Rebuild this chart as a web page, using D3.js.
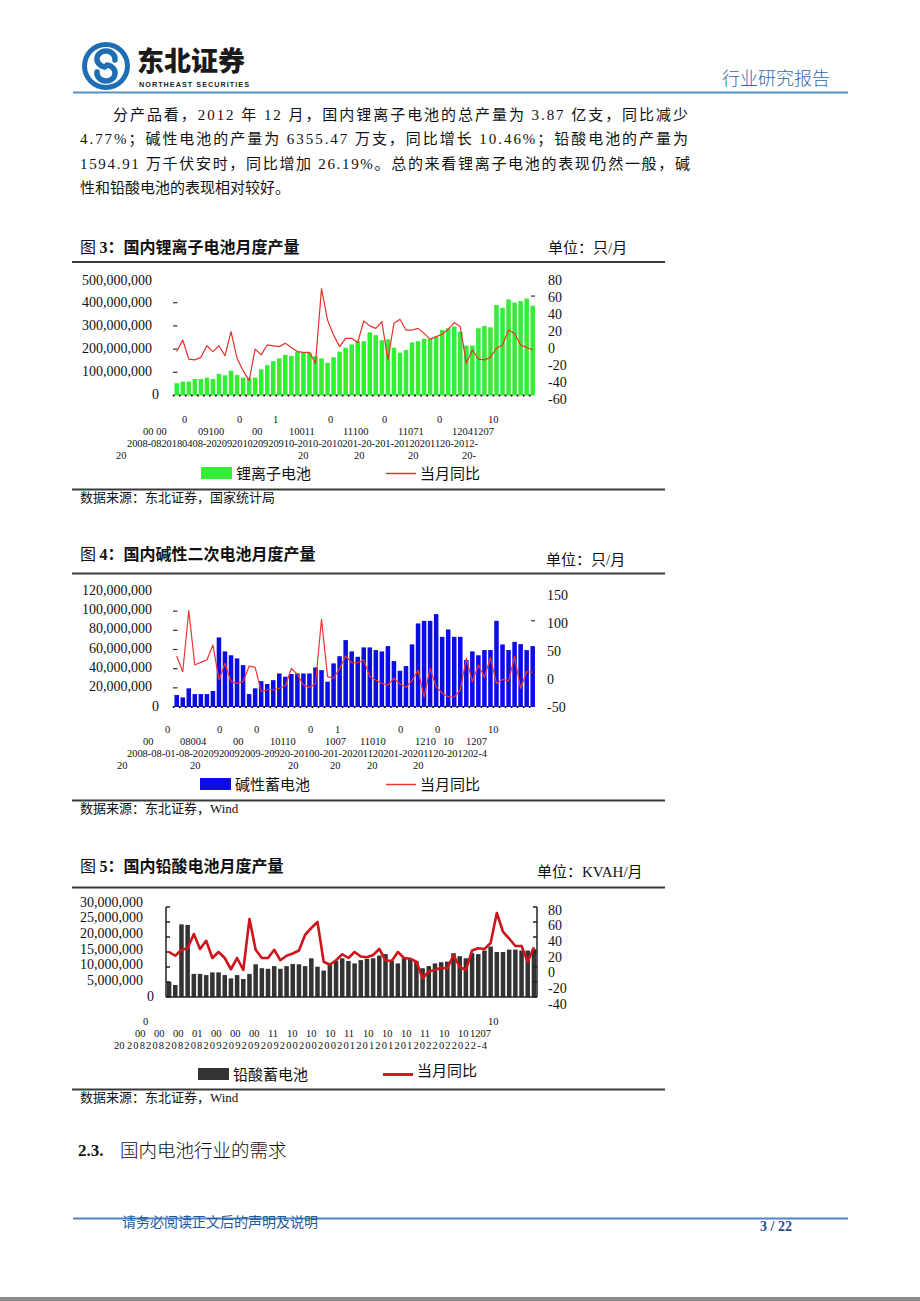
<!DOCTYPE html>
<html><head><meta charset="utf-8">
<script src="https://cdn.jsdelivr.net/npm/d3@7"></script>
<style>body{margin:0;background:#fff} svg{display:block}</style>
</head><body>
<svg id="page" width="920" height="1301"></svg>
<script>
// ---------------- DATA ----------------
const months = [
 "2008-01","2008-02","2008-03","2008-04","2008-05","2008-06","2008-07","2008-08","2008-09","2008-10","2008-11","2008-12",
 "2009-01","2009-02","2009-03","2009-04","2009-05","2009-06","2009-07","2009-08","2009-09","2009-10","2009-11","2009-12",
 "2010-01","2010-02","2010-03","2010-04","2010-05","2010-06","2010-07","2010-08","2010-09","2010-10","2010-11","2010-12",
 "2011-01","2011-02","2011-03","2011-04","2011-05","2011-06","2011-07","2011-08","2011-09","2011-10","2011-11","2011-12",
 "2012-01","2012-02","2012-03","2012-04","2012-05","2012-06","2012-07","2012-08","2012-09","2012-10","2012-11","2012-12"];

// Figure 3: lithium-ion battery output (million units) and YoY (%)
const liIonOutputMn = [53,60,60,71,71,77,71,93,87,107,88,77,
 77,77,113,131,148,160,175,170,189,184,184,170,
 160,141,165,189,206,220,234,234,272,260,238,242,
 206,185,196,229,234,245,245,253,282,290,297,275,
 215,215,290,300,294,390,378,414,401,407,418,387];
const liIonYoY = [-7,7,-16,-17,-14,0,-7,0,-12,17,-15,-30,
 -42,-4,-11,1,0,-1,3,-2,-7,-8,-8,-21,
 69,31,13,-1,9,9,4,30,24,21,29,-17,
 27,32,19,19,21,15,8,11,14,20,28,23,
 -21,-5,-16,-17,-14,-3,1,19,15,1,-2,-4.77];

// Figure 4: alkaline secondary battery output (million units) and YoY (%)
const alkalineOutputMn = [12.5,10,19.5,13.5,13.5,13.5,16.7,72.6,58,54,50.7,43.7,
 13.5,19.5,27,24,28,35,31.6,34.4,35,35,35,41.3,
 38.5,26.4,45.5,53,69.8,58,52.4,62.2,62.2,59.4,58,63.5,
 47.9,37.8,42.7,65.3,87.2,89.9,89.9,96.9,73.2,80.9,73.2,73.2,
 49,58,54,59.4,59.4,89.9,65.3,59.4,68,65.6,59.4,63.55];
const alkalineYoY = [38.7,11.4,117.5,23,27.7,31.7,57.8,-3,26,-6,-9,-6,
 21,19,-23,-20,-20,-17.5,-13.5,17,6.8,-11.7,-15.8,-10,
 102.5,2.8,0,17,38.7,27,27,31.7,2.8,-3,-9,-11.7,
 0,-10,-15.8,-4,14,-33,17,-14.6,-26,-32,-33,-20,
 34.6,-6,23,1.6,36,-9,-2,-4.8,37.5,-17.5,11.4,10.46];

// Figure 5: lead-acid battery output (million KVAH) and YoY (%)
const leadAcidOutputMn = [5.1,4.0,24.2,24.0,7.7,7.7,7.3,8.2,8.2,7.3,6.2,7.3,
 6.0,7.7,10.9,9.6,9.4,10.3,9.4,10.3,11.0,10.9,10.3,12.9,
 10.1,8.8,11.0,12.0,12.9,12.0,11.2,12.3,12.7,12.9,13.8,14.3,
 12.0,11.2,12.9,12.7,12.0,9.6,10.3,11.2,11.6,11.8,14.6,13.6,
 12.9,14.6,14.3,15.5,16.8,15.0,15.0,15.8,15.8,15.5,15.5,15.95];
const leadAcidYoY = [20,15,23,25,44,24,35,12,20,12,-3,12,
 -4,64,23,12,12,23,9,15,18,22,43,52,
 60,7,3,9,17,12,20,14,13,16,24,9,
 8,20,12,11,7,-15,-6,-4,-1,-2,16,0,
 -4,22,25,24,32,72,47,38,28,28,7,26.19];

// tick values
const liLeftTicks = [0,100,200,300,400,500];          // million
const liRightTicks = [-60,-40,-20,0,20,40,60,80];
const alkLeftTicks = [0,20,40,60,80,100,120];
const alkRightTicks = [-50,0,50,100,150];
const leadLeftTicks = [0,5,10,15,20,25,30];
const leadRightTicks = [-40,-20,0,20,40,60,80];

// text
const paragraphLines = [
 "分产品看，2012 年 12 月，国内锂离子电池的总产量为 3.87 亿支，同比减少",
 "4.77%；碱性电池的产量为 6355.47 万支，同比增长 10.46%；铅酸电池的产量为",
 "1594.91 万千伏安时，同比增加 26.19%。总的来看锂离子电池的表现仍然一般，碱",
 "性和铅酸电池的表现相对较好。"];

// ---------------- DRAW ----------------
const svg = d3.select("#page");
svg.append("rect").attr("width",920).attr("height",1301).attr("fill","#fff");
const CJK = "'Liberation Serif','Noto Sans CJK SC',serif";
const CJKS = "'Noto Sans CJK SC',sans-serif";
const SERIF = "'Liberation Serif','Times New Roman',serif";

// header logo
const logo = svg.append("g").attr("transform","translate(106,66)");
logo.append("circle").attr("r",24).attr("fill","#1e6eb4");
logo.append("circle").attr("r",19).attr("fill","#fff");
logo.append("path").attr("d","M 9 -6 A 9 8 0 1 0 -1 1")
  .attr("stroke","#1e6eb4").attr("stroke-width",5.5).attr("fill","none").attr("stroke-linecap","round");
logo.append("path").attr("d","M -9 6 A 9 8 0 1 0 1 -1")
  .attr("stroke","#1e6eb4").attr("stroke-width",5.5).attr("fill","none").attr("stroke-linecap","round");
svg.append("text").attr("x",137).attr("y",71).text("东北证券")
  .attr("font-family",CJKS).attr("font-weight","900").attr("font-size",27).attr("fill","#1a1a1a");
svg.append("text").attr("x",139).attr("y",87).text("NORTHEAST SECURITIES")
  .attr("font-family","'Liberation Sans',Arial,sans-serif").attr("font-weight","bold").attr("font-size",7.2)
  .attr("textLength",110).attr("fill","#222");
svg.append("text").attr("x",722).attr("y",85).text("行业研究报告")
  .attr("font-family",CJKS).attr("font-size",18).attr("fill","#2f68a6").attr("font-weight",300);
svg.append("line").attr("x1",73).attr("x2",848).attr("y1",92.5).attr("y2",92.5)
  .attr("stroke","#5b8fc7").attr("stroke-width",2);

// paragraph
const paraX = [113,80,80,80], paraY = [120,144,169,193], paraLen = [575,608,610,null];
paragraphLines.forEach((t,i)=>{
  const tx = svg.append("text").attr("x",paraX[i]).attr("y",paraY[i]).text(t)
    .attr("font-family",CJK).attr("font-size",15).attr("fill","#111");
  if (paraLen[i]) tx.attr("textLength",paraLen[i]).attr("lengthAdjust","spacing");
});

// broken category-axis labels (as printed in the source document)
function frag(g, t, x, y, len){
  const e = g.append("text").attr("x",x).attr("y",y).text(t)
    .attr("font-family",SERIF).attr("font-size",10.5).attr("fill","#111");
  if (len) e.attr("textLength",len).attr("lengthAdjust","spacing");
}

function drawChart(c){
  const g = svg.append("g");
  const tt = g.append("text").attr("x",80).attr("y",c.titleY).attr("font-size",16).attr("fill","#111");
  tt.append("tspan").attr("font-family",CJKS).text("图 ");
  tt.append("tspan").attr("font-family",SERIF).attr("font-weight","bold").text(c.num);
  tt.append("tspan").attr("font-family",CJKS).attr("font-weight","bold").text("：" + c.title);
  g.append("text").attr("x",c.unitX).attr("y",c.unitY).text(c.unit)
    .attr("font-family",CJK).attr("font-size",15).attr("fill","#111");
  g.append("line").attr("x1",72).attr("x2",665).attr("y1",c.ruleY).attr("y2",c.ruleY)
    .attr("stroke","#3a3a3a").attr("stroke-width",2);

  const x = d3.scaleBand().domain(months).range([c.x0,c.x1]).paddingInner(c.pad).paddingOuter(c.pad/2);
  const yL = d3.scaleLinear().domain([0,c.leftMax]).range([c.yB,c.yT]);
  const yR = d3.scaleLinear().domain([c.rMin,c.rMax]).range([c.yB,c.yT]);
  const labL = d3.scaleLinear().domain([0,c.leftMax]).range(c.labL);
  const labR = d3.scaleLinear().domain([c.rMin,c.rMax]).range(c.labR);
  const fmt = d3.format(",");

  c.leftTicks.forEach(v=>{
    g.append("text").attr("x", v===0 ? c.zeroX : c.labLX).attr("y",labL(v))
      .attr("text-anchor","end").attr("dominant-baseline","central")
      .attr("font-family",SERIF).attr("font-size",14).attr("fill","#111")
      .text(fmt(Math.round(v*1e6)));
  });
  c.rightTicks.forEach(v=>{
    g.append("text").attr("x",c.labRX).attr("y",labR(v))
      .attr("dominant-baseline","central")
      .attr("font-family",SERIF).attr("font-size",14).attr("fill","#111")
      .text(v);
  });

  g.selectAll("rect.bar").data(c.values).join("rect").attr("class","bar")
    .attr("x",(d,i)=>x(months[i])).attr("width",x.bandwidth())
    .attr("y",d=>yL(d)).attr("height",d=>yL(0)-yL(d)).attr("fill",c.barColor);

  if (c.axes) {
    g.append("line").attr("x1",c.x0).attr("x2",c.x0).attr("y1",c.yT).attr("y2",c.yB).attr("stroke","#222").attr("stroke-width",1.5);
    g.append("line").attr("x1",c.x1).attr("x2",c.x1).attr("y1",c.yT).attr("y2",c.yB).attr("stroke","#222").attr("stroke-width",1.5);
    g.append("line").attr("x1",c.x0).attr("x2",c.x1).attr("y1",c.yB).attr("y2",c.yB).attr("stroke","#222").attr("stroke-width",1.5);
    c.leftTicks.forEach(v=>g.append("line").attr("x1",c.x0).attr("x2",c.x0+4).attr("y1",yL(v)).attr("y2",yL(v)).attr("stroke","#222").attr("stroke-width",1.5));
    c.rightTicks.forEach(v=>g.append("line").attr("x1",c.x1-4).attr("x2",c.x1).attr("y1",yR(v)).attr("y2",yR(v)).attr("stroke","#222").attr("stroke-width",1.5));
  } else {
    c.leftDash.forEach(v=>g.append("line").attr("x1",173).attr("x2",177.5).attr("y1",yL(v)).attr("y2",yL(v)).attr("stroke","#333").attr("stroke-width",1.2));
    c.rightDash.forEach(v=>g.append("line").attr("x1",531).attr("x2",535).attr("y1",yR(v)).attr("y2",yR(v)).attr("stroke","#333").attr("stroke-width",1.2));
    months.forEach(m=>{
      g.append("rect").attr("x",x(m)-x.step()*x.paddingInner()/2-0.9).attr("y",yL(0)-1)
        .attr("width",1.8).attr("height",2).attr("fill","#111");
    });
  }

  const line = d3.line().x((d,i)=>x(months[i])+x.bandwidth()/2).y(d=>yR(d)).curve(d3.curveLinear);
  g.append("path").datum(c.yoy).attr("d",line).attr("fill","none")
    .attr("stroke",c.lineColor).attr("stroke-width",c.lineW).attr("stroke-linejoin","round");

  c.frags.forEach(f=>frag(g,f[0],f[1],f[2],f[3]));

  g.append("rect").attr("x",c.leg[0]).attr("y",c.leg[1]).attr("width",31).attr("height",12).attr("fill",c.barColor);
  g.append("text").attr("x",c.leg[0]+35).attr("y",c.leg[1]+12).text(c.barName)
    .attr("font-family",CJKS).attr("font-size",15).attr("fill","#111");
  g.append("line").attr("x1",c.leg[2]).attr("x2",c.leg[2]+30).attr("y1",c.leg[1]+6.5).attr("y2",c.leg[1]+6.5)
    .attr("stroke",c.lineColor).attr("stroke-width",c.lineW+0.3);
  g.append("text").attr("x",c.leg[2]+34).attr("y",c.leg[1]+12+c.legDy).text("当月同比")
    .attr("font-family",CJKS).attr("font-size",15).attr("fill","#111");

  g.append("line").attr("x1",72).attr("x2",665).attr("y1",c.srcRule).attr("y2",c.srcRule)
    .attr("stroke","#3a3a3a").attr("stroke-width",2);
  g.append("text").attr("x",80).attr("y",c.srcRule+12).text(c.source)
    .attr("font-family",CJK).attr("font-size",13).attr("fill","#111");
}

drawChart({
  num:"3", title:"国内锂离子电池月度产量", titleY:253, unit:"单位：只/月", unitX:548, unitY:253, ruleY:262,
  x0:173.7, x1:535.7, pad:0.25, yB:395.5, yT:279.5, leftMax:500, rMin:-60, rMax:80,
  labL:[394,280], labR:[399,280], labLX:152, zeroX:159, labRX:548,
  leftTicks:liLeftTicks, rightTicks:liRightTicks, leftDash:[100,200,300,400], rightDash:[60],
  values:liIonOutputMn, yoy:liIonYoY, barColor:"#33ee33", lineColor:"#e8302a", lineW:1.2,
  barName:"锂离子电池", leg:[201,467,386], legDy:0, srcRule:489.5, source:"数据来源：东北证券，国家统计局",
  frags:[["0",182,423],["0",237,423],["1",273,423],["0",328,423],["0",382,423],["0",437,423],["10",488,423],
    ["00 00",143,435],["09100",198,435],["00",252,435],["10011",289,435],["11100",343,435],["11071",398,435],["12041207",452,435,42],
    ["2008-0820180408-20209201020920910-2010-2010201-20-201-20120201120-2012-",127,447,351],
    ["20",116,459],["20",298,459],["20",354,459],["20",408,459],["20-",462,459]]
});

drawChart({
  num:"4", title:"国内碱性二次电池月度产量", titleY:560, unit:"单位：只/月", unitX:546, unitY:565, ruleY:573.5,
  x0:173.7, x1:535.7, pad:0.25, yB:707, yT:592, leftMax:120, rMin:-50, rMax:150,
  labL:[706,590], labR:[707,595], labLX:152, zeroX:159, labRX:547,
  leftTicks:alkLeftTicks, rightTicks:alkRightTicks, leftDash:[20,40,60,80,100], rightDash:[100],
  values:alkalineOutputMn, yoy:alkalineYoY, barColor:"#0c0ce6", lineColor:"#ee3434", lineW:1.2,
  barName:"碱性蓄电池", leg:[200,778,386], legDy:0, srcRule:800.5, source:"数据来源：东北证券，Wind",
  frags:[["0",165,733],["0",217,733],["0",254,733],["0",308,733],["1",335,733],["0",398,733],["0",435,733],["10",488,733],
    ["00",143,745],["08004",180,745],["00",233,745],["10110",270,745],["1007",325,745],["11010",360,745],
    ["1210",415,745],["10",443,745],["1207",466,745],
    ["2008-08-01-08-2020920092009-20920-20100-201-20201120201-20201120-201202-4",127,757,360],
    ["20",117,769],["20",190,769],["20",288,769],["20",330,769],["20",367,769],["20",413,769]]
});

drawChart({
  num:"5", title:"国内铅酸电池月度产量", titleY:872, unit:"单位：KVAH/月", unitX:537, unitY:877, ruleY:887.5,
  x0:166, x1:537, pad:0.27, yB:997, yT:907, leftMax:30, rMin:-40, rMax:80,
  labL:[996,902], labR:[1004,910], labLX:143, zeroX:154, labRX:548,
  leftTicks:leadLeftTicks, rightTicks:leadRightTicks, axes:true,
  values:leadAcidOutputMn, yoy:leadAcidYoY, barColor:"#333333", lineColor:"#d0141c", lineW:2.6,
  barName:"铅酸蓄电池", leg:[198,1068,383], legDy:-4, srcRule:1089.5, source:"数据来源：东北证券，Wind",
  frags:[["0",143,1025],["10",488,1025],
    ["00",135,1037],["00",154,1037],["00",173,1037],["01",192,1037],["00",211,1037],["00",230,1037],["00",249,1037],
    ["11",268,1037],["10",287,1037],["10",306,1037],["10",325,1037],["11",344,1037],["10",363,1037],["10",382,1037],
    ["10",401,1037],["11",420,1037],["10",439,1037],["10",458,1037],["1207",470,1037],
    ["20",114,1049],["2082082082082092092092092002002002012012012012022022022-4",127,1049,360]]
});

// section heading
svg.append("text").attr("x",78).attr("y",1156).text("2.3.")
  .attr("font-family",SERIF).attr("font-weight","bold").attr("font-size",17).attr("fill","#111");
svg.append("text").attr("x",120).attr("y",1157).text("国内电池行业的需求")
  .attr("font-family",CJKS).attr("font-size",18.5).attr("fill","#111").attr("font-weight",300);

// footer
svg.append("line").attr("x1",73).attr("x2",848).attr("y1",1218.5).attr("y2",1218.5)
  .attr("stroke","#4a86c5").attr("stroke-width",2);
svg.append("text").attr("x",122).attr("y",1227).text("请务必阅读正文后的声明及说明")
  .attr("font-family",CJKS).attr("font-size",14).attr("fill","#1f5aa0");
svg.append("text").attr("x",760).attr("y",1231).text("3 / 22")
  .attr("font-family",SERIF).attr("font-weight","bold").attr("font-size",14).attr("fill","#1f4f8f");
svg.append("rect").attr("x",0).attr("y",1297).attr("width",920).attr("height",4).attr("fill","#8a8a8a");
</script>
</body></html>
